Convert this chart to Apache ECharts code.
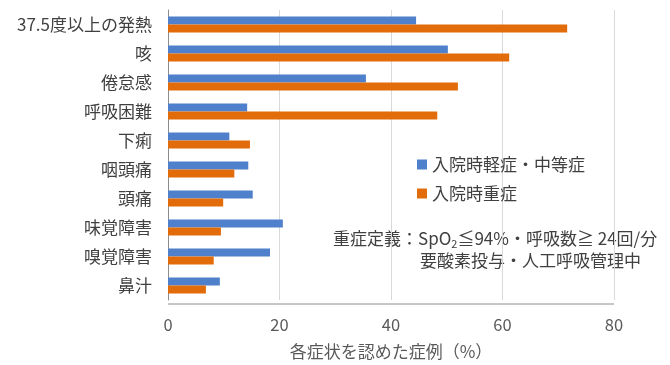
<!DOCTYPE html>
<html><head><meta charset="utf-8">
<script src="https://cdn.jsdelivr.net/npm/echarts@6/dist/echarts.min.js"></script>
<style>html,body{margin:0;padding:0;background:#fff}#c{width:670px;height:365px}</style>
</head><body><div id="c"></div>
<script>
const categories = ['37.5度以上の発熱','咳','倦怠感','呼吸困難','下痢','咽頭痛','頭痛','味覚障害','嗅覚障害','鼻汁'];
const mildModerate = [44.5, 50.2, 35.5, 14.2, 11.0, 14.4, 15.2, 20.6, 18.3, 9.3];
const severe = [71.6, 61.2, 52.0, 48.3, 14.7, 11.9, 9.9, 9.5, 8.2, 6.8];
const seriesNames = ['入院時軽症・中等症', '入院時重症'];
const xTicks = [0, 20, 40, 60, 80];
const axisName = '各症状を認めた症例（%）';

const font = '"Noto Sans CJK JP", sans-serif';
const chart = echarts.init(document.getElementById('c'));
chart.setOption({
  animation: false,
  textStyle: {fontFamily: font},
  grid: {left: 168, right: 56, top: 10, bottom: 61},
  legend: {
    orient: 'vertical', left: 412, top: 151, itemGap: 12,
    itemWidth: 10, itemHeight: 10, icon: 'rect',
    textStyle: {fontSize: 17, color: '#404040', fontFamily: font},
    data: seriesNames
  },
  xAxis: {
    type: 'value', min: xTicks[0], max: xTicks[xTicks.length - 1], interval: 20,
    axisLine: {show: false}, axisTick: {show: false},
    axisLabel: {fontSize: 16.5, color: '#595959', margin: 16, fontFamily: font},
    splitLine: {lineStyle: {color: '#d9d9d9'}},
    name: axisName, nameLocation: 'middle', nameGap: 43,
    nameTextStyle: {fontSize: 17, color: '#595959', fontFamily: font}
  },
  yAxis: {
    type: 'category', data: categories, inverse: true,
    axisLine: {lineStyle: {color: '#8c8c8c'}}, axisTick: {show: false},
    axisLabel: {fontSize: 17, color: '#404040', margin: 16, fontFamily: font}
  },
  series: [
    {name: seriesNames[0], type: 'bar', data: mildModerate, barGap: '0%', barCategoryGap: '45%',
     itemStyle: {color: '#4f80cc'}},
    {name: seriesNames[1], type: 'bar', data: severe, barGap: '0%', barCategoryGap: '45%',
     itemStyle: {color: '#e36c0a'}}
  ],
  graphic: [
    {type: 'line', shape: {x1: 168, y1: 304, x2: 614, y2: 304}, style: {stroke: '#8c8c8c', lineWidth: 1}},
    {type: 'text', left: 333, top: 230, style: {
      text: '重症定義：{n|SpO}{s|2}{n|≦94%・呼吸数≧ 24回/分}',
      rich: {
        n: {fontSize: 17, fill: '#404040', fontFamily: font},
        s: {fontSize: 11, fill: '#404040', fontFamily: font, padding: [11, 0, 0, 0]}
      },
      font: '17px ' + font, fill: '#404040'
    }},
    {type: 'text', left: 420, top: 252, style: {
      text: '要酸素投与・人工呼吸管理中', font: '17px ' + font, fill: '#404040'
    }}
  ]
});
</script></body></html>
